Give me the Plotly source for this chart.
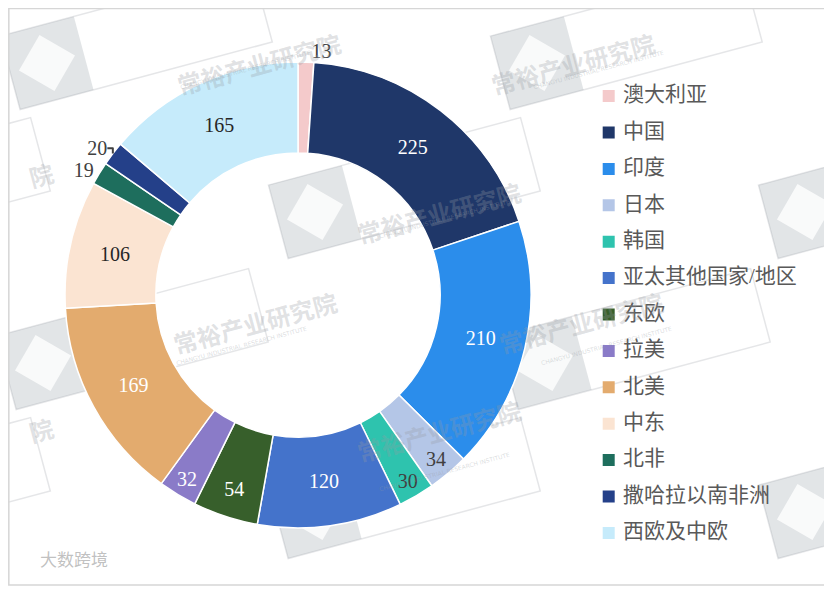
import math
import plotly.graph_objects as go

regions = ['澳大利亚', '中国', '印度', '日本', '韩国', '亚太其他国家/地区', '东欧',
           '拉美', '北美', '中东', '北非', '撒哈拉以南非洲', '西欧及中欧']
values = [13, 225, 210, 34, 30, 120, 54, 32, 169, 106, 19, 20, 165]
colors = ['#F4CACB', '#1F3769', '#2B8DEB', '#B4C6E7', '#2EC3AE', '#4473CB', '#375F2B',
          '#8A7BC8', '#E3AB6E', '#FBE4D2', '#1E6E5D', '#244089', '#C6EBFB']
text_colors = ['#404040', 'white', 'white', '#404040', '#404040', 'white', 'white',
               'white', 'white', '#262626', '#404040', '#404040', '#262626']
text_pos = ['outside', 'inside', 'inside', 'inside', 'inside', 'inside', 'inside',
            'inside', 'inside', 'inside', 'outside', 'outside', 'inside']

W, H = 824, 582   # page has an 8px body margin
serif = 'Liberation Serif, Noto Sans CJK SC'

fig = go.Figure()

fig.add_trace(go.Pie(
    labels=regions,
    values=values,
    sort=False,
    direction='clockwise',
    rotation=0,
    hole=0.61,
    marker=dict(colors=colors, line=dict(color='white', width=1.5)),
    textinfo='value',
    textposition=text_pos,
    insidetextorientation='horizontal',
    textfont=dict(family=serif, size=20, color=text_colors),
    outsidetextfont=dict(family=serif, size=20, color='#404040'),
    domain=dict(x=[0.0692, 0.6347], y=[0.1065, 0.9072]),
    showlegend=False,
))

# legend drawn as a small scatter on its own hidden axes
idx = list(range(len(regions)))
fig.add_trace(go.Scatter(
    x=[0] * len(regions), y=idx, mode='markers',
    marker=dict(symbol='square', size=12, color=colors),
    hoverinfo='skip', showlegend=False,
))
fig.add_trace(go.Scatter(
    x=[0.6] * len(regions), y=idx, mode='text', text=regions,
    textposition='middle right',
    textfont=dict(family=serif, size=21, color='#595959'),
    hoverinfo='skip', showlegend=False,
))

# watermark stamps (page pixel centres of the grey logo square)
stamps = [(47, 63), (537, 63), (-175, 212), (315, 212), (805, 212),
          (43, 363), (545, 363), (-175, 512), (315, 512), (805, 512)]
ang = math.radians(15)


def to_paper(cx, cy, u, v):
    px = cx + u * math.cos(ang) + v * math.sin(ang) - 8
    py = cy - u * math.sin(ang) + v * math.cos(ang) - 8
    return px / W, 1 - py / H


def poly(cx, cy, pts):
    xy = [to_paper(cx, cy, u, v) for u, v in pts]
    return 'M ' + ' L '.join('%.4f,%.4f' % p for p in xy) + ' Z'


wm_font = 'Noto Sans CJK SC'
wm_col = 'rgba(150,155,162,0.3)'
shapes = []
annotations = []
for cx, cy in stamps:
    shapes.append(dict(type='path', xref='paper', yref='paper', layer='below',
                       path=poly(cx, cy, [(-38, -38), (223, -38), (223, 38), (-38, 38)]),
                       line=dict(color='rgba(150,155,162,0.25)', width=1.5),
                       fillcolor='rgba(0,0,0,0)'))
    shapes.append(dict(type='path', xref='paper', yref='paper', layer='below',
                       path=poly(cx, cy, [(-38, -38), (38, -38), (38, 38), (-38, 38)]),
                       line=dict(width=0), fillcolor='rgba(140,150,160,0.25)'))
    shapes.append(dict(type='path', xref='paper', yref='paper', layer='below',
                       path=poly(cx, cy, [(0, -29), (29, 0), (0, 29), (-29, 0)]),
                       line=dict(width=0), fillcolor='rgba(255,255,255,0.8)'))
    if cx < 0:
        # only the last character shows at the left edge
        tx, ty = to_paper(cx, cy, 206, -7)
        annotations.append(dict(
            x=tx, y=ty, xref='paper', yref='paper', text='<b>院</b>', showarrow=False,
            textangle=-15, font=dict(family=wm_font, size=24, color=wm_col),
        ))
        continue
    if cx > 700:
        continue
    tx, ty = to_paper(cx, cy, 130, -7)
    annotations.append(dict(
        x=tx, y=ty, xref='paper', yref='paper', text='<b>常裕产业研究院</b>', showarrow=False,
        textangle=-15, font=dict(family=wm_font, size=24, color=wm_col),
    ))
    ex, ey = to_paper(cx, cy, 130, 17)
    annotations.append(dict(
        x=ex, y=ey, xref='paper', yref='paper', text='CHANGYU INDUSTRIAL RESEARCH INSTITUTE',
        showarrow=False, textangle=-15,
        font=dict(family='DejaVu Sans', size=6, color='rgba(150,155,162,0.35)'),
    ))

annotations.append(dict(
    x=30 / W, y=1 - 565 / H, xref='paper', yref='paper', xanchor='left', text='大数跨境',
    showarrow=False, font=dict(family=wm_font, size=17, color='rgba(165,165,165,0.7)'),
))

shapes.append(dict(type='rect', xref='paper', yref='paper', x0=0.001, x1=0.994, y0=0.0086, y1=0.999,
                   line=dict(color='#D6D6D6', width=1.5)))

fig.update_layout(
    width=W, height=H,
    margin=dict(l=0, r=0, t=0, b=0),
    paper_bgcolor='white', plot_bgcolor='rgba(0,0,0,0)',
    xaxis=dict(domain=[0.7, 0.99], range=[-1, 9], visible=False, fixedrange=True),
    yaxis=dict(domain=[0.0668, 0.8799], range=[12.5, -0.5], visible=False, fixedrange=True),
    annotations=annotations,
    shapes=shapes,
)

fig.write_html('out.html')
